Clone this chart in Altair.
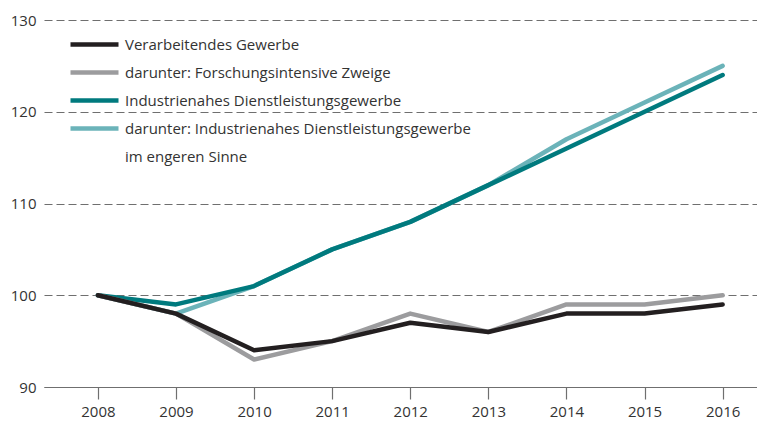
import altair as alt
import pandas as pd

years = [2008, 2009, 2010, 2011, 2012, 2013, 2014, 2015, 2016]
series_names = [
    "Verarbeitendes Gewerbe",
    "darunter: Forschungsintensive Zweige",
    "Industrienahes Dienstleistungsgewerbe",
    "darunter: Industrienahes Dienstleistungsgewerbe",
]
legend_continuation = "im engeren Sinne"
verarbeitendes = [100, 98, 94, 95, 97, 96, 98, 98, 99]
forschung = [100, 98, 93, 95, 98, 96, 99, 99, 100]
dienstleistung = [100, 99, 101, 105, 108, 112, 116, 120, 124]
dienst_eng = [100, 98, 101, 105, 108, 112, 117, 121, 125]
colors = ["#231f20", "#9c9c9e", "#007a7e", "#6bb3b9"]

values = [verarbeitendes, forschung, dienstleistung, dienst_eng]
rows = []
for name, vals in zip(series_names, values):
    for y, v in zip(years, vals):
        rows.append({"Jahr": y, "Wert": v, "Reihe": name})
df = pd.DataFrame(rows)

FONT = "Open Sans"

x = alt.X(
    "Jahr:Q",
    scale=alt.Scale(domain=[2007.31, 2016.44], nice=False, zero=False),
    axis=alt.Axis(
        values=years, format="d", title=None, grid=False,
        domainColor="#6f6f6f", domainWidth=1.2, tickColor="#6f6f6f",
        tickSize=12, tickWidth=1.2, labelFontSize=15, labelColor="#333333",
        labelPadding=5, labelFont=FONT,
    ),
)
y = alt.Y(
    "Wert:Q",
    scale=alt.Scale(domain=[90, 130], nice=False, zero=False),
    axis=alt.Axis(
        values=[90, 100, 110, 120, 130], title=None, domain=False, ticks=False,
        grid=True, gridDash=[8, 4], gridColor="#6f6f6f", gridWidth=1.1,
        labelFontSize=15, labelColor="#333333", labelPadding=8, labelFont=FONT,
    ),
)
color = alt.Color(
    "Reihe:N",
    scale=alt.Scale(
        domain=series_names + [legend_continuation],
        range=colors + ["rgba(0,0,0,0)"],
    ),
    legend=alt.Legend(
        title=None, orient="none", legendX=36, legendY=10,
        symbolType="M-2,0H2", symbolSize=576, symbolStrokeWidth=4.5,
        labelFontSize=15, labelFont=FONT, labelColor="#333333",
        labelLimit=500, rowPadding=4, labelOffset=16,
    ),
)

draw_order = [series_names[3], series_names[2], series_names[1], series_names[0]]
layers = []
for name in draw_order:
    layers.append(
        alt.Chart(df)
        .transform_filter(alt.datum.Reihe == name)
        .mark_line(strokeWidth=4.5, strokeCap="round", strokeJoin="round")
        .encode(x=x, y=y, color=color)
    )

chart = (
    alt.layer(*layers)
    .properties(
        width=713, height=367,
        autosize=alt.AutoSizeParams(type="none"),
        padding={"left": 44, "top": 20, "right": 0, "bottom": 36},
        background="white",
    )
    .configure_view(stroke=None)
)

chart.save("out.html", embed_options={"renderer": "svg", "actions": False})
